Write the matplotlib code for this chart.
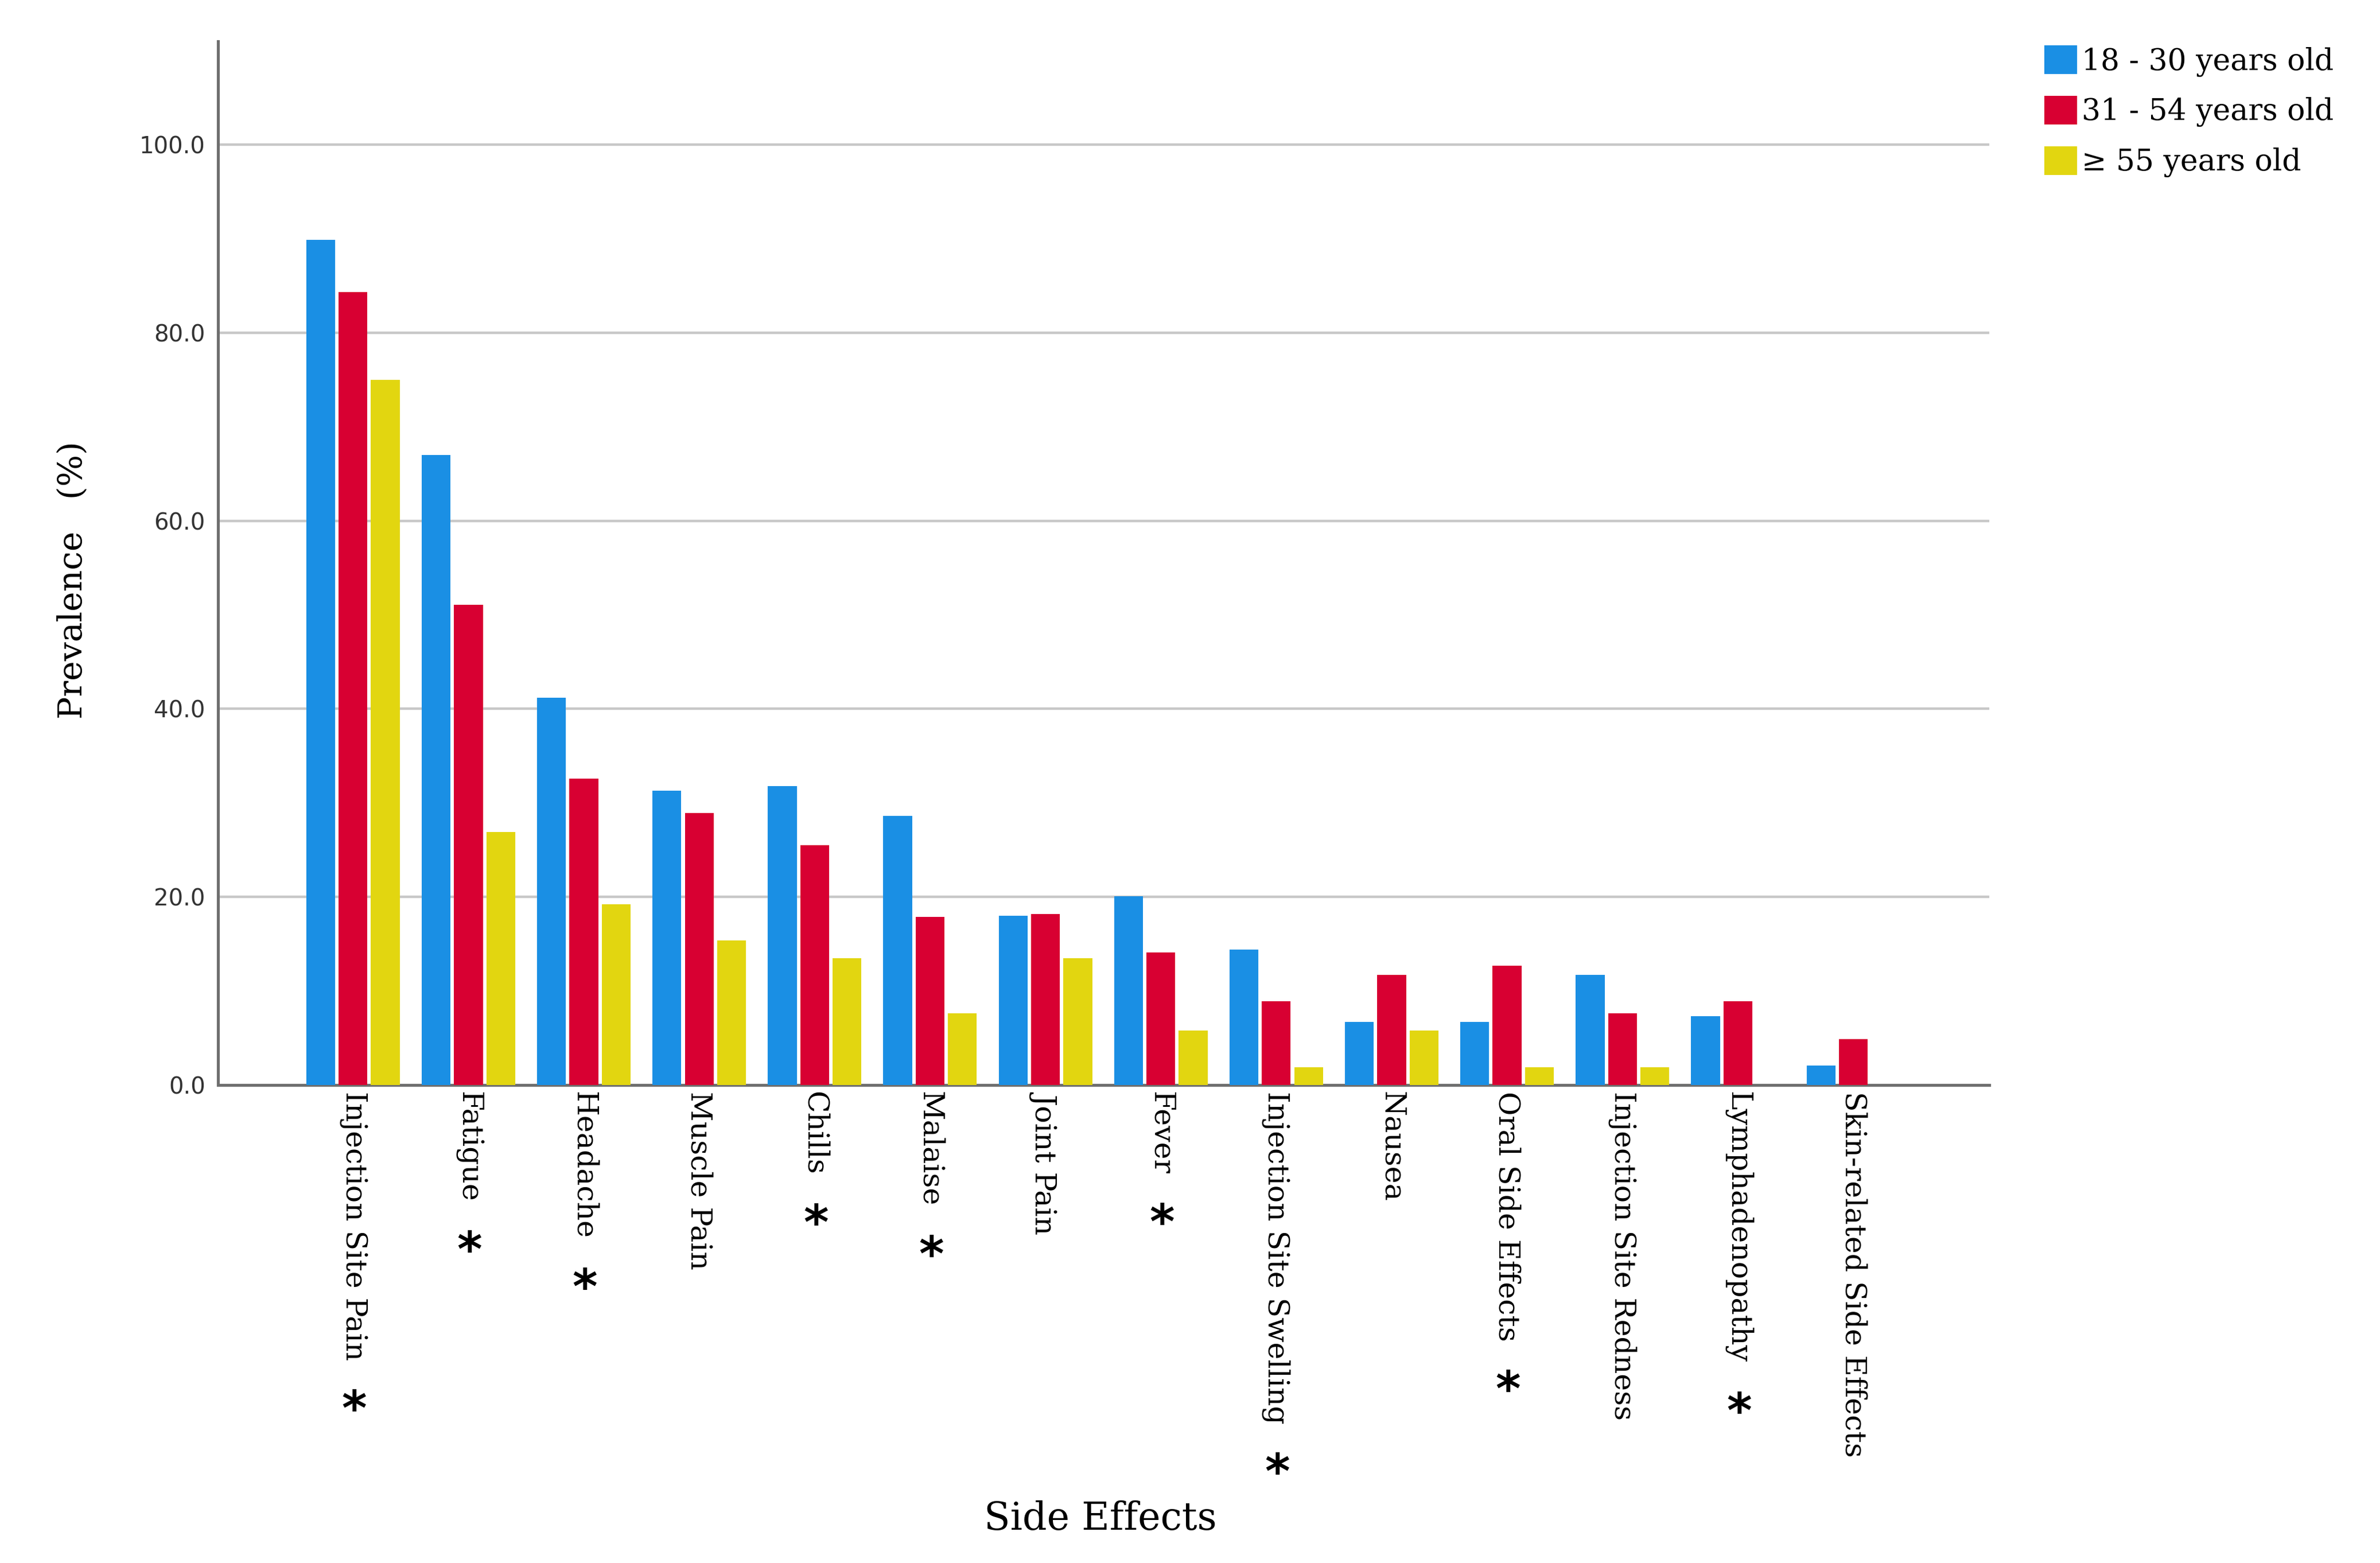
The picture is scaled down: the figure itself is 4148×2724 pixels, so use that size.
import numpy as np
import matplotlib.pyplot as plt
from matplotlib.patches import Patch

efectos = ["Injection Site Pain", "Fatigue", "Headache", "Muscle Pain", "Chills",
           "Malaise", "Joint Pain", "Fever", "Injection Site Swelling", "Nausea",
           "Oral Side Effects", "Injection Site Redness", "Lymphadenopathy",
           "Skin-related Side Effects"]
significativo = [True, True, True, False, True, True, False, True, True, False,
                 True, False, True, False]

grupos = ["18 - 30 years old", "31 - 54 years old", "\u2265 55 years old"]
jovenes = [89.9, 67.0, 41.2, 31.3, 31.8, 28.6, 18.0, 20.1, 14.4, 6.7, 6.7, 11.7, 7.3, 2.1]
adultos = [84.3, 51.1, 32.6, 28.9, 25.5, 17.9, 18.2, 14.1, 8.9, 11.7, 12.7, 7.6, 8.9, 4.9]
mayores = [75.0, 26.9, 19.2, 15.4, 13.5, 7.6, 13.5, 5.8, 1.9, 5.8, 1.9, 1.9, 0.0, 0.0]

colores = ["#1a8fe4", "#d80032", "#e2d610"]
serif = ["DejaVu Serif"]

fig = plt.figure(figsize=(20.74, 13.62), dpi=200, facecolor="white")
ax = fig.add_axes([0.0916, 0.3058, 0.7443, 0.6678])

x = np.arange(len(efectos))
paso = 0.28
ancho = 0.25
for i, (serie, color) in enumerate(zip([jovenes, adultos, mayores], colores)):
    ax.bar(x + (i - 1) * paso, serie, width=ancho, color=color, edgecolor="none", zorder=3)

ax.set_xlim(-1.17, len(efectos) - 1 + 1.18)
ax.set_ylim(0, 111)
ax.set_yticks([0, 20, 40, 60, 80, 100])
ax.set_yticklabels([f"{v:.1f}" for v in [0, 20, 40, 60, 80, 100]],
                   fontsize=14.5, color="#333333", family="DejaVu Sans")
ax.yaxis.grid(True, color="#c8c8c8", linewidth=1.6, zorder=0)
ax.set_axisbelow(True)

ax.set_xticks(x)
ax.set_xticklabels(efectos, rotation=270, fontsize=18.2, family=serif,
                   va="top", ha="center")
ax.tick_params(axis="x", length=0, pad=4)
ax.tick_params(axis="y", length=0, pad=8)

for lado in ["top", "right"]:
    ax.spines[lado].set_visible(False)
for lado in ["left", "bottom"]:
    ax.spines[lado].set_color("#6e6e6e")
    ax.spines[lado].set_linewidth(1.8)

ax.set_ylabel("Prevalence   (%)", fontsize=21, family=serif)
ax.yaxis.set_label_coords(-0.073, 0.484)
ax.set_xlabel("Side Effects", fontsize=24, family=serif)
ax.xaxis.set_label_coords(0.498, -0.398)

parches = [Patch(facecolor=c, edgecolor="none") for c in colores]
fig.legend(parches, grupos, loc="upper left", bbox_to_anchor=(0.859, 0.971),
           frameon=False, prop={"family": serif, "size": 18.7}, borderpad=0,
           borderaxespad=0, handlelength=1.1, handleheight=1.1,
           handletextpad=0.15, labelspacing=0.64)

# asteriscos de significancia debajo de cada etiqueta
fig.canvas.draw()
renderer = fig.canvas.get_renderer()
for etiqueta, sig in zip(ax.get_xticklabels(), significativo):
    if not sig:
        continue
    caja = etiqueta.get_window_extent(renderer)
    cx = (caja.x0 + caja.x1) / 2 + 2
    cy = caja.y0 - 88
    fig.text(cx / fig.bbox.width, cy / fig.bbox.height, "*", fontsize=30,
             fontweight="bold", family="DejaVu Sans", ha="center", va="center")

fig.savefig("out.png", dpi=200, facecolor="white")
